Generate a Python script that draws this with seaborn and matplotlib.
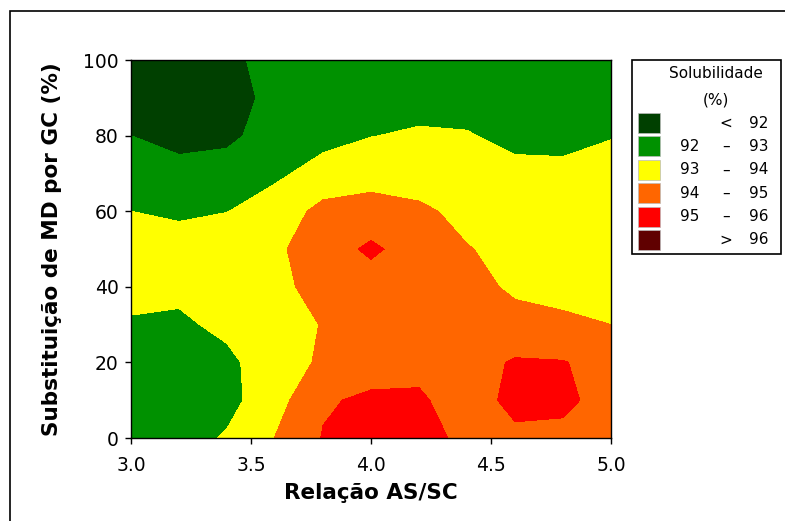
import numpy as np
import pandas as pd
import seaborn as sns
from matplotlib import pyplot as plt
from matplotlib.patches import Rectangle

# grid (x = AS/SC ratio, y = % MD replaced by GC)
ratio_as_sc = [3.0, 3.2, 3.4, 3.6, 3.8, 4.0, 4.2, 4.4, 4.6, 4.8, 5.0]
md_substitution = [0, 10, 20, 30, 40, 50, 60, 70, 80, 90, 100]
solubility = [
    [92.5, 92.6, 93.1, 94.02, 95.05, 95.35, 95.3, 94.8, 94.7, 94.6, 94.3],
    [92.4, 92.3, 92.7, 93.6, 94.9, 95.15, 95.2, 94.3, 95.4, 95.35, 94.35],
    [92.6, 92.5, 92.8, 93.5, 94.15, 94.6, 94.6, 94.6, 95.1, 95.05, 94.6],
    [92.9, 92.85, 93.2, 93.5, 94.05, 94.5, 94.6, 94.5, 94.3, 94.15, 94.0],
    [93.3, 93.2, 93.4, 93.7, 94.4, 94.6, 94.5, 94.3, 93.85, 93.75, 93.8],
    [93.3, 93.4, 93.6, 93.8, 94.6, 95.15, 94.6, 94.05, 93.7, 93.6, 93.7],
    [93.0, 92.85, 92.98, 93.4, 94.3, 94.5, 94.2, 93.7, 93.5, 93.5, 93.6],
    [92.4, 92.2, 92.3, 92.85, 93.3, 93.5, 93.45, 93.4, 93.2, 93.2, 93.4],
    [92.0, 91.8, 91.85, 92.3, 92.75, 92.98, 93.1, 93.05, 92.8, 92.75, 92.95],
    [91.7, 91.5, 91.7, 92.2, 92.5, 92.7, 92.7, 92.7, 92.5, 92.5, 92.6],
    [91.6, 91.5, 91.8, 92.3, 92.5, 92.6, 92.6, 92.5, 92.4, 92.4, 92.5],
]

levels = [92, 93, 94, 95, 96]
band_labels = [('', '<', '92'), ('92', '–', '93'), ('93', '–', '94'),
               ('94', '–', '95'), ('95', '–', '96'), ('', '>', '96')]
band_colors = ['#004000', '#009100', '#FFFF00', '#FF6600', '#FF0000', '#600000']

sns.set_style('ticks')
plt.rcParams['font.family'] = ['DejaVu Sans']
plt.rcParams['text.color'] = 'black'
plt.rcParams['axes.labelcolor'] = 'black'
plt.rcParams['xtick.color'] = 'black'
plt.rcParams['ytick.color'] = 'black'

df = pd.DataFrame(solubility, index=md_substitution, columns=ratio_as_sc)

fig = plt.figure(figsize=(7.85, 5.21), dpi=100)
ax = fig.add_axes([0.1669, 0.1593, 0.6115, 0.7255])
X, Y = np.meshgrid(df.columns.values, df.index.values)
ax.contourf(X, Y, df.values, levels=[0] + levels + [200], colors=band_colors)

ax.set_xlim(3.0, 5.0)
ax.set_ylim(0, 100)
ax.set_xticks([3.0, 3.5, 4.0, 4.5, 5.0])
ax.set_xticklabels(['3.0', '3.5', '4.0', '4.5', '5.0'])
ax.set_yticks([0, 20, 40, 60, 80, 100])
ax.tick_params(labelsize=13.5, length=4, width=1, color='black')
ax.tick_params(axis='x', pad=9)
ax.tick_params(axis='y', pad=5)
for sp in ax.spines.values():
    sp.set_color('black')
    sp.set_linewidth(1)
ax.set_xlabel('Relação AS/SC', fontsize=15.5, fontweight='bold', labelpad=6)
ax.set_ylabel('Substituição de MD por GC (%)', fontsize=15.5, fontweight='bold', labelpad=15)

# outer frame (cut by the image edge)
W, H = 785, 521
fig.patches.append(Rectangle((10 / W, -0.1), 1.2, (H - 11) / H + 0.1, transform=fig.transFigure,
                             fill=False, edgecolor='black', linewidth=1.2))

# legend box
fig.patches.append(Rectangle((632 / W, 1 - 254 / H), 149 / W, 194 / H, transform=fig.transFigure,
                             fill=False, edgecolor='black', linewidth=1.2))
fig.text(716 / W, 1 - 74 / H, 'Solubilidade', fontsize=11, ha='center', va='center')
fig.text(716 / W, 1 - 100 / H, '(%)', fontsize=11, ha='center', va='center')
for i, (lo, sym, hi) in enumerate(band_labels):
    yc = 123 + i * 23.4
    fig.patches.append(Rectangle((638 / W, 1 - (yc + 10) / H), 22 / W, 20 / H,
                                 transform=fig.transFigure, facecolor=band_colors[i],
                                 edgecolor='#bbbbbb', linewidth=0.5))
    fig.text(680 / W, 1 - yc / H, lo, fontsize=11, ha='left', va='center')
    fig.text(726 / W, 1 - yc / H, sym, fontsize=11, ha='center', va='center')
    fig.text(768 / W, 1 - yc / H, hi, fontsize=11, ha='right', va='center')

fig.savefig('out.png', dpi=100)
